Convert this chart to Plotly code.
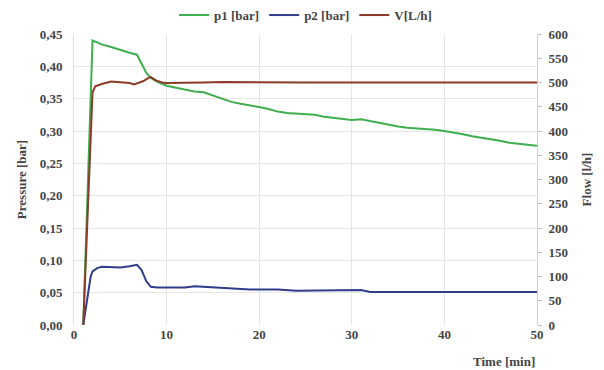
import plotly.graph_objects as go

# ---- data ----
t_p1 = [1, 1.5, 2, 2.5, 3, 4, 5, 6, 6.8, 7.3, 7.8, 8.3, 9, 10, 11, 12, 13, 14, 15, 16, 17, 18, 19, 20,
        21, 22, 23, 24, 25, 26, 27, 28, 29, 30, 31, 32, 33, 34, 35, 36, 37, 38, 39, 40, 41, 42, 43, 44,
        45, 46, 47, 48, 49, 50]
p1 = [0, 0.22, 0.440, 0.437, 0.434, 0.430, 0.425, 0.421, 0.418, 0.405, 0.390, 0.382, 0.376, 0.370,
      0.367, 0.364, 0.361, 0.360, 0.355, 0.350, 0.345, 0.342, 0.340, 0.337, 0.334, 0.330, 0.328, 0.327,
      0.327, 0.325, 0.322, 0.320, 0.318, 0.317, 0.318, 0.315, 0.312, 0.310, 0.307, 0.305, 0.304, 0.304,
      0.302, 0.300, 0.298, 0.295, 0.292, 0.290, 0.287, 0.285, 0.282, 0.280, 0.279, 0.277]

t_p2 = [1, 1.4, 1.8, 2, 2.5, 3, 4, 5, 6, 6.8, 7.3, 7.8, 8.3, 9, 10, 11, 12, 13, 14, 15, 16, 17, 18, 19,
        20, 22, 24, 26, 28, 30, 31, 32, 34, 36, 38, 40, 42, 44, 46, 48, 50]
p2 = [0, 0.035, 0.075, 0.083, 0.088, 0.090, 0.090, 0.089, 0.091, 0.093, 0.085, 0.068, 0.059, 0.058,
      0.058, 0.058, 0.058, 0.060, 0.059, 0.058, 0.058, 0.057, 0.056, 0.055, 0.055, 0.055, 0.053, 0.053,
      0.054, 0.054, 0.054, 0.051, 0.051, 0.051, 0.050, 0.051, 0.050, 0.050, 0.051, 0.051, 0.051]

t_v = [1, 1.5, 2, 2.3, 3, 4, 5, 6, 6.5, 7, 7.5, 8, 8.3, 8.8, 9.5, 10, 12, 14, 16, 20, 25, 30, 35, 40, 45, 50]
v = [0, 260, 480, 492, 497, 502, 500, 499, 496, 500, 503, 509, 511, 505, 500, 499, 499, 500, 501, 500,
     500, 500, 500, 500, 500, 500]

x_ticks = [0, 10, 20, 30, 40, 50]

font = dict(family="Liberation Serif, Times New Roman, serif", size=13, color="#454545", weight="bold")

fig = go.Figure()
fig.add_trace(go.Scatter(x=t_p1, y=p1, name="p1 [bar]", mode="lines",
                         line=dict(color="#3fae4f", width=2)))
fig.add_trace(go.Scatter(x=t_p2, y=p2, name="p2 [bar]", mode="lines",
                         line=dict(color="#2f3d8a", width=2)))
fig.add_trace(go.Scatter(x=t_v, y=v, name="V[L/h]", mode="lines", yaxis="y2",
                         line=dict(color="#8c3b2b", width=2)))

fig.update_layout(
    width=604, height=370,
    margin=dict(l=66, r=75, t=26, b=53, autoexpand=False),
    paper_bgcolor="white", plot_bgcolor="white",
    font=font,
    separators=", ",
    showlegend=True,
    legend=dict(orientation="h", x=0.5, xanchor="center", y=1.065, yanchor="middle",
                font=font, tracegroupgap=0, itemwidth=30, bgcolor="rgba(0,0,0,0)"),
    xaxis=dict(range=[0, 50], tickvals=x_ticks, showgrid=True, gridcolor="#e6e6e6",
               zeroline=False, showline=False, ticks="", tickfont=font, automargin=False),
    yaxis=dict(range=[0, 0.45], dtick=0.05, tickformat=".2f", showgrid=True, gridcolor="#e6e6e6",
               zeroline=False, showline=True, linecolor="#e0e0e0", ticks="", automargin=False,
               ticklabelstandoff=8,
               title=dict(text="Pressure [bar]", font=font, standoff=10), tickfont=font),
    yaxis2=dict(range=[0, 600], dtick=50, overlaying="y", side="right", showgrid=False,
                zeroline=False, showline=True, linecolor="#d0d0d0", ticks="outside",
                ticklen=4, tickcolor="#c0c0c0", automargin=False, ticklabelstandoff=4,
                title=dict(text="Flow [l/h]", font=font, standoff=14), tickfont=font),
    annotations=[dict(text="Time [min]", xref="paper", yref="paper", x=1.0, y=-0.093,
                      xanchor="right", yanchor="top", showarrow=False, font=font)],
)

fig.write_html("out.html")
